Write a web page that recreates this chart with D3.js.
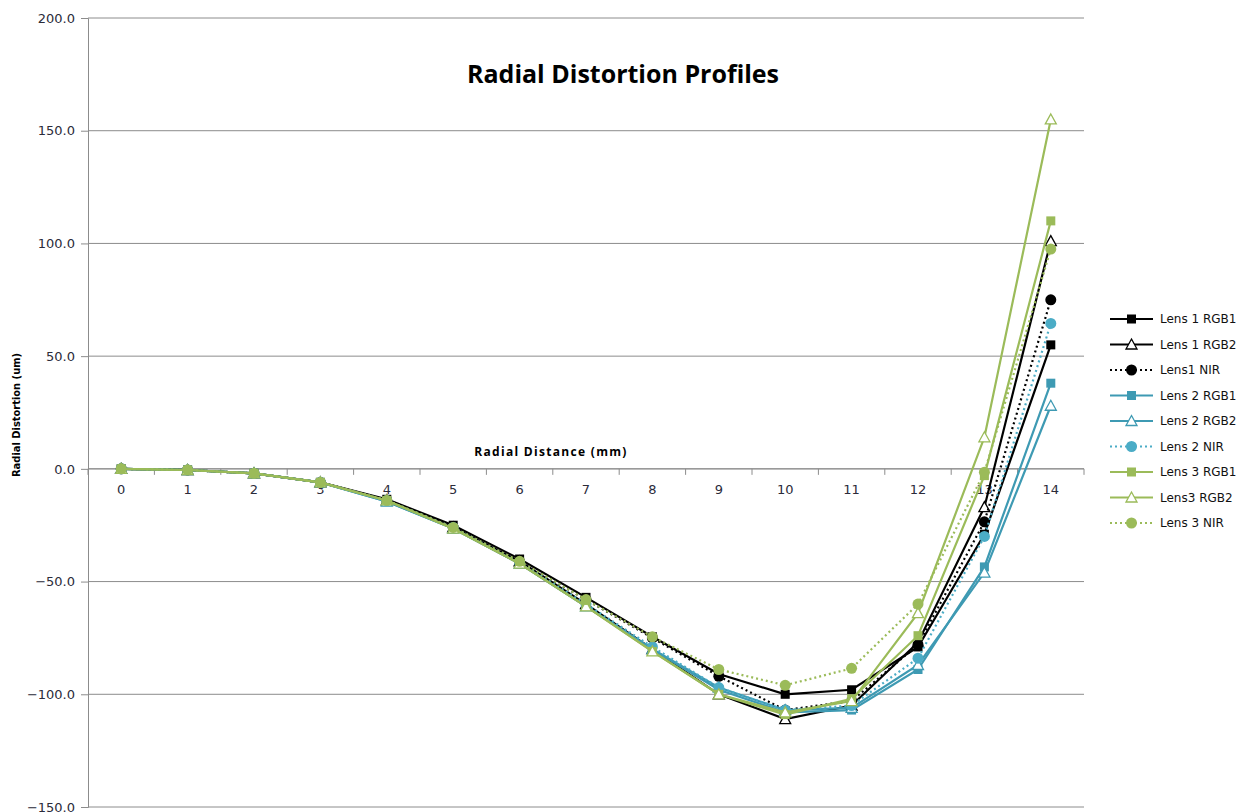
<!DOCTYPE html>
<html>
<head>
<meta charset="utf-8">
<script src="https://cdn.jsdelivr.net/npm/d3@7"></script>
<style>
  body { margin: 0; background: #fff; }
  text { font-family: "DejaVu Sans", Verdana, sans-serif; }
</style>
</head>
<body>
<script>
// radial distance in mm (category axis)
var distances = [0, 1, 2, 3, 4, 5, 6, 7, 8, 9, 10, 11, 12, 13, 14];
var yTicks = [-150, -100, -50, 0, 50, 100, 150, 200];

var seriesNames = ["Lens 1 RGB1", "Lens 1 RGB2", "Lens1 NIR", "Lens 2 RGB1", "Lens 2 RGB2",
  "Lens 2 NIR", "Lens 3 RGB1", "Lens3 RGB2", "Lens 3 NIR"];

var lens1Rgb1 = [0, -0.5, -2, -6, -13.5, -25, -40, -57, -74.5, -91, -100, -98, -79, -29, 55];
var lens1Rgb2 = [0, -0.5, -2, -6, -14, -26, -41, -60, -80, -100, -111, -105, -77, -17, 101];
var lens1Nir = [0, -0.5, -2, -6, -14, -26, -41, -58, -75, -92, -107, -103, -78, -23.5, 75];
var lens2Rgb1 = [0, -0.5, -2, -6, -14.5, -26.5, -42, -61, -80, -98, -108, -107, -89, -43.5, 38];
var lens2Rgb2 = [0, -0.5, -2, -6, -14.5, -26.5, -42, -61, -80, -97, -107, -106, -87, -46, 28];
var lens2Nir = [0, -0.5, -2, -6, -14, -26, -41.5, -60, -79, -97, -107, -105, -84, -30, 64.5];
var lens3Rgb1 = [0, -0.5, -2, -6, -14, -26.5, -42, -61, -81, -100, -109, -102, -74, -3, 110];
var lens3Rgb2 = [0, -0.5, -2, -6, -14, -26.5, -42, -61, -81, -100, -108, -103, -64, 14, 155];
var lens3Nir = [0, -0.5, -2, -6, -14, -26, -41, -58, -74.5, -89, -96, -88.5, -60, -1.5, 97.5];

var black = "#000000", blue = "#3E9AB3", blueLight = "#4BACC6", green = "#9BBB59";

var series = [
  {name: seriesNames[0], values: lens1Rgb1, color: black, dash: null, marker: "square"},
  {name: seriesNames[1], values: lens1Rgb2, color: black, dash: null, marker: "triangle"},
  {name: seriesNames[2], values: lens1Nir, color: black, dash: "2,3", marker: "circle"},
  {name: seriesNames[3], values: lens2Rgb1, color: blue, dash: null, marker: "square"},
  {name: seriesNames[4], values: lens2Rgb2, color: blue, dash: null, marker: "triangle"},
  {name: seriesNames[5], values: lens2Nir, color: blueLight, dash: "2,3", marker: "circle"},
  {name: seriesNames[6], values: lens3Rgb1, color: green, dash: null, marker: "square"},
  {name: seriesNames[7], values: lens3Rgb2, color: green, dash: null, marker: "triangle"},
  {name: seriesNames[8], values: lens3Nir, color: green, dash: "2,3", marker: "circle"}
];

var W = 1245, H = 812;
var plotLeft = 88, plotRight = 1084, plotTop = 18, plotBottom = 807;

var svg = d3.select("body").append("svg")
    .attr("width", W)
    .attr("height", H);

var x = d3.scaleBand()
    .domain(distances)
    .range([plotLeft, plotRight]);

var y = d3.scaleLinear()
    .domain([-150, 200])
    .range([plotBottom, plotTop]);

var cx = function(d) { return x(d) + x.bandwidth() / 2; };

// gridlines
svg.append("g")
  .selectAll("line")
  .data(yTicks)
  .join("line")
    .attr("x1", plotLeft)
    .attr("x2", plotRight)
    .attr("y1", function(d) { return y(d); })
    .attr("y2", function(d) { return y(d); })
    .attr("stroke", "#8c8c8c")
    .attr("stroke-width", 1);

// y axis
var yAxis = d3.axisLeft(y)
    .tickValues(yTicks)
    .tickSize(7)
    .tickPadding(6)
    .tickFormat(d3.format(".1f"));

var yg = svg.append("g")
    .attr("transform", "translate(" + plotLeft + ",0)")
    .call(yAxis);
yg.select(".domain").attr("stroke", "#8c8c8c");
yg.selectAll(".tick line").attr("stroke", "#8c8c8c");
yg.selectAll(".tick text")
    .attr("fill", "#2b2b3a")
    .style("font-size", "13px")
    .style("font-family", "DejaVu Sans, Verdana, sans-serif");

// x axis crossing at zero, ticks at category boundaries
var xg = svg.append("g")
    .attr("transform", "translate(0," + y(0) + ")");
xg.append("line")
    .attr("x1", plotLeft).attr("x2", plotRight)
    .attr("stroke", "#8c8c8c");
xg.selectAll(".bound")
  .data(distances.concat([15]))
  .join("line")
    .attr("class", "bound")
    .attr("x1", function(d, i) { return plotLeft + i * x.step(); })
    .attr("x2", function(d, i) { return plotLeft + i * x.step(); })
    .attr("y1", 0)
    .attr("y2", 6)
    .attr("stroke", "#8c8c8c");
xg.selectAll(".lbl")
  .data(distances)
  .join("text")
    .attr("class", "lbl")
    .attr("x", cx)
    .attr("y", 25)
    .attr("text-anchor", "middle")
    .attr("fill", "#2b2b3a")
    .style("font-size", "13px")
    .text(function(d) { return d; });

// titles
svg.append("text")
    .attr("x", 623)
    .attr("y", 83)
    .attr("text-anchor", "middle")
    .style("font-family", "'Open Sans', 'DejaVu Sans', sans-serif")
    .style("font-weight", "bold")
    .style("font-size", "25px")
    .text("Radial Distortion Profiles");

svg.append("text")
    .attr("x", 551)
    .attr("y", 456)
    .attr("text-anchor", "middle")
    .style("font-family", "'Open Sans', 'DejaVu Sans', sans-serif")
    .style("font-weight", "bold")
    .style("font-size", "12px")
    .style("letter-spacing", "1.3px")
    .text("Radial Distance (mm)");

svg.append("text")
    .attr("transform", "translate(20,415) rotate(-90)")
    .attr("text-anchor", "middle")
    .style("font-family", "'DejaVu Sans Condensed', 'Liberation Sans Narrow', sans-serif")
    .style("font-weight", "bold")
    .style("font-size", "11px")
    .text("Radial Distortion (um)");

function drawMarker(g, type, color) {
  if (type === "square") {
    g.append("rect")
        .attr("x", -4.5).attr("y", -4.5)
        .attr("width", 9).attr("height", 9)
        .attr("fill", color);
  } else if (type === "circle") {
    g.append("circle")
        .attr("r", 5.5)
        .attr("fill", color);
  } else {
    g.append("path")
        .attr("d", "M0,-5.5L5.5,4.5L-5.5,4.5Z")
        .attr("fill", "#fff")
        .attr("stroke", color)
        .attr("stroke-width", 1.3);
  }
}

var line = d3.line()
    .x(function(d, i) { return cx(distances[i]); })
    .y(function(d) { return y(d); });

var plot = svg.append("g");

series.forEach(function(s) {
  var g = plot.append("g");
  g.append("path")
      .attr("d", line(s.values))
      .attr("fill", "none")
      .attr("stroke", s.color)
      .attr("stroke-width", 2.2)
      .attr("stroke-dasharray", s.dash);
  g.selectAll(".pt")
    .data(s.values)
    .join("g")
      .attr("class", "pt")
      .attr("transform", function(d, i) { return "translate(" + cx(distances[i]) + "," + y(d) + ")"; })
      .each(function() { drawMarker(d3.select(this), s.marker, s.color); });
});

// legend
var legend = svg.append("g")
    .attr("transform", "translate(1110,319)");

var item = legend.selectAll(".item")
  .data(series)
  .join("g")
    .attr("class", "item")
    .attr("transform", function(d, i) { return "translate(0," + i * 25.5 + ")"; });

item.append("line")
    .attr("x1", 0).attr("x2", 43)
    .attr("stroke", function(d) { return d.color; })
    .attr("stroke-width", 2.2)
    .attr("stroke-dasharray", function(d) { return d.dash; });

item.each(function(d) {
  var m = d3.select(this).append("g").attr("transform", "translate(21.5,0)");
  drawMarker(m, d.marker, d.color);
});

item.append("text")
    .attr("x", 50)
    .attr("y", 4)
    .style("font-family", "'DejaVu Sans', Verdana, sans-serif")
    .style("font-size", "12px")
    .attr("fill", "#111")
    .text(function(d) { return d.name; });
</script>
</body>
</html>
